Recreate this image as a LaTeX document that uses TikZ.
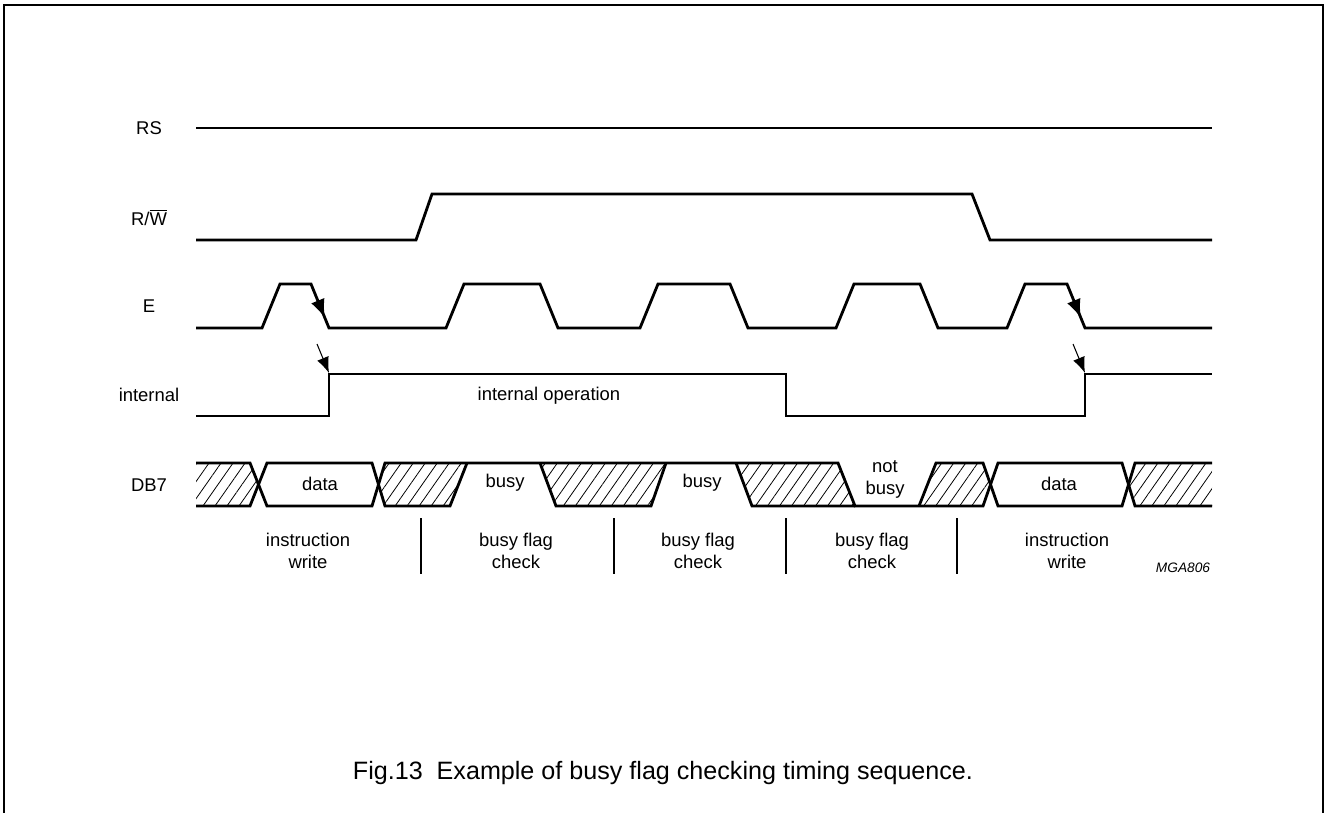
\documentclass[tikz,border=0pt]{standalone}
\usepackage{fontspec}
\setmainfont{Liberation Sans}
\usetikzlibrary{arrows.meta,patterns.meta}
\begin{document}
\begin{tikzpicture}[x=0.02cm,y=-0.02cm,
  sig/.style={line width=1.6pt,line join=miter},
  hatch/.style={pattern={Lines[angle=55,distance=5.6pt,line width=0.45pt]}},
  lbl/.style={font=\fontsize{10.5}{12.5}\selectfont,inner sep=0pt,align=center},
  divider/.style={line width=0.6pt},
  bigtip/.style={-{Latex[length=10pt,width=8pt]}},
  smalltip/.style={line width=0.6pt,-{Latex[length=9pt,width=7pt]}}]
\useasboundingbox (0,0) rectangle (1327,813);
% frame
\draw[line width=0.9pt] (4,813) -- (4,5) -- (1323,5) -- (1323,813);

% signal names
\node[lbl] (nRS) at (149,128) {RS};
\node[lbl] (nRW) at (149,217) {R/$\overline{\mbox{W}}$};
\node[lbl] (nE) at (149,306) {E};
\node[lbl] (nInt) at (149,395) {internal};
\node[lbl] (nDB) at (149,485) {DB7};

% RS
\draw[sig] (196,128) -- (1212,128);
% R/W
\draw[sig] (196,240) -- (416,240) -- (432,194) -- (972,194) -- (990,240) -- (1212,240);
% E
\draw[sig] (196,328) -- (262,328) -- (280,284) -- (311,284) -- (329,328)
  -- (446,328) -- (464,284) -- (540,284) -- (558,328)
  -- (640,328) -- (658,284) -- (730,284) -- (748,328)
  -- (836,328) -- (854,284) -- (920,284) -- (938,328)
  -- (1007,328) -- (1025,284) -- (1067,284) -- (1085,328) -- (1212,328);
% internal
\draw[sig] (196,416) -- (329,416) -- (329,374) -- (786,374) -- (786,416)
  -- (1085,416) -- (1085,374) -- (1212,374);
\node[lbl] (iop) at (549,396) {internal operation};

% arrows on E falling edges
\coordinate (ea1) at (311,284);
\coordinate (eb1) at (324.5,317);
\coordinate (ea2) at (1067,284);
\coordinate (eb2) at (1080.5,317);
\draw[bigtip,line width=0pt,draw opacity=0] (ea1) -- (eb1);
\draw[bigtip,line width=0pt,draw opacity=0] (ea2) -- (eb2);
% small arrows to internal rise
\coordinate (sa1) at (317,344);
\coordinate (ia1) at (329,373);
\coordinate (sa2) at (1073,344);
\coordinate (ia2) at (1085,373);
\draw[smalltip] (sa1) -- (ia1);
\draw[smalltip] (sa2) -- (ia2);

% DB7 hatching
\fill[hatch] (196,463) -- (250,463) -- (258.5,484.5) -- (250,506) -- (196,506) -- cycle;
\fill[hatch] (378.5,484.5) -- (385,463) -- (467,463) -- (450,506) -- (385,506) -- cycle;
\fill[hatch] (540,463) -- (666,463) -- (651,506) -- (556,506) -- cycle;
\fill[hatch] (736,463) -- (838,463) -- (855,506) -- (752,506) -- cycle;
\fill[hatch] (919,506) -- (936,463) -- (983,463) -- (990.5,484.5) -- (983,506) -- cycle;
\fill[hatch] (1128.5,484.5) -- (1135,463) -- (1212,463) -- (1212,506) -- (1135,506) -- cycle;

% DB7 outlines
\draw[sig] (196,463) -- (250,463) -- (267,506) -- (372,506) -- (385,463) -- (838,463)
  -- (855,506) -- (983,506) -- (998,463) -- (1122,463) -- (1135,506) -- (1212,506);
\draw[sig] (196,506) -- (250,506) -- (267,463) -- (372,463) -- (385,506) -- (450,506) -- (467,463);
\draw[sig] (540,463) -- (556,506) -- (651,506) -- (666,463);
\draw[sig] (736,463) -- (752,506) -- (855,506);
\draw[sig] (919,506) -- (936,463) -- (983,463) -- (998,506) -- (1122,506) -- (1135,463) -- (1212,463);

% DB7 texts
\node[lbl] (d1) at (320,484) {data};
\node[lbl] (b1) at (505,483) {busy};
\node[lbl] (b2) at (702,483) {busy};
\node[lbl] (nb) at (885,479) {not\\busy};
\node[lbl] (d2) at (1059,484) {data};

% phase dividers
\draw[divider] (421,518) -- (421,574);
\draw[divider] (614,518) -- (614,574);
\draw[divider] (786,518) -- (786,574);
\draw[divider] (957,518) -- (957,574);

% phase labels
\node[lbl] (p1) at (308,551) {instruction\\write};
\node[lbl] (p2) at (516,551) {busy flag\\check};
\node[lbl] (p3) at (698,551) {busy flag\\check};
\node[lbl] (p4) at (872,551) {busy flag\\check};
\node[lbl] (p5) at (1067,551) {instruction\\write};
\node[font=\fontsize{7.8}{9}\selectfont\itshape,inner sep=0pt] (code) at (1183,568) {MGA806};

% caption
\node[font=\fontsize{14.3}{16}\selectfont,inner sep=0pt] (cap) at (663,773) {Fig.13\ \ Example of busy flag checking timing sequence.};
\end{tikzpicture}
\end{document}
